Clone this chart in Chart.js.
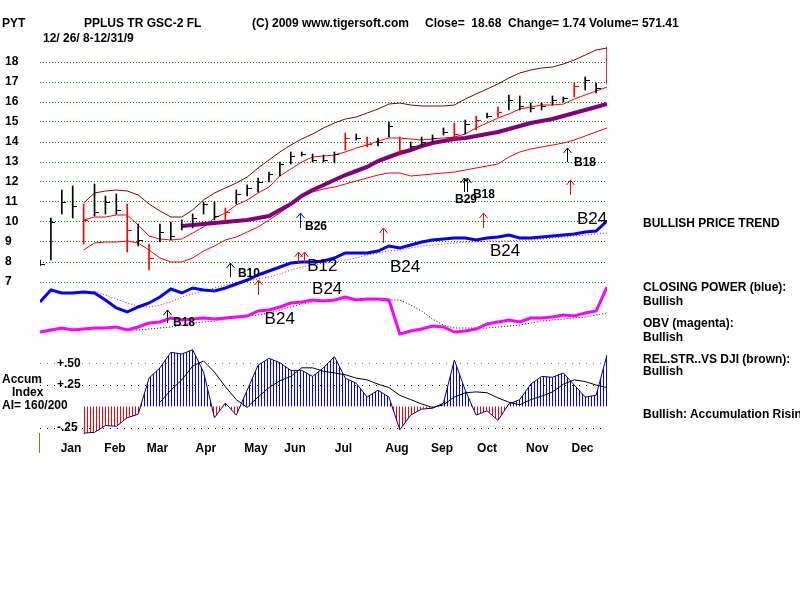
<!DOCTYPE html>
<html><head><meta charset="utf-8">
<script src="https://cdn.jsdelivr.net/npm/chart.js@4.4.1/dist/chart.umd.min.js"></script>
<style>
html,body{margin:0;padding:0;background:#fff;}
#wrap{position:relative;width:800px;height:600px;overflow:hidden;}
canvas{position:absolute;left:0;top:0;}
.t{position:absolute;font:bold 12px "Liberation Sans",Arial,sans-serif;line-height:14px;white-space:pre;color:#000;}
</style></head><body>
<div id="wrap">
<canvas id="c" width="800" height="600"></canvas>
<div class="t" style="left:2px;top:16px">PYT</div>
<div class="t" style="left:84px;top:16px">PPLUS TR GSC-2 FL</div>
<div class="t" style="left:252px;top:16px">(C) 2009 www.tigersoft.com</div>
<div class="t" style="left:425px;top:16px">Close=  18.68  Change= 1.74 Volume= 571.41</div>
<div class="t" style="left:43px;top:31px">12/ 26/ 8-12/31/9</div>
<div class="t" style="left:643px;top:216px">BULLISH PRICE TREND</div>
<div class="t" style="left:643px;top:280px">CLOSING POWER (blue):</div>
<div class="t" style="left:643px;top:294px">Bullish</div>
<div class="t" style="left:643px;top:316px">OBV (magenta):</div>
<div class="t" style="left:643px;top:330px">Bullish</div>
<div class="t" style="left:643px;top:352px">REL.STR..VS DJI (brown):</div>
<div class="t" style="left:643px;top:364px">Bullish</div>
<div class="t" style="left:643px;top:407px">Bullish: Accumulation Rising</div>
<div class="t" style="left:2px;top:372px">Accum</div>
<div class="t" style="left:12px;top:385px">Index</div>
<div class="t" style="left:2px;top:398px">AI= 160/200</div>
</div>
<script>
// ---- data (weekly, 12/26/08 .. 12/31/09) ----
const monthNames = ['Jan','Feb','Mar','Apr','May','Jun','Jul','Aug','Sep','Oct','Nov','Dec'];
const monthPos   = [2.84, 6.88, 10.77, 15.22, 19.81, 23.39, 27.83, 32.74, 36.87, 41.0, 45.62, 49.75];
const priceTicks = [7,8,9,10,11,12,13,14,15,16,17,18];
const accTicks   = [0.5, 0.25, -0.25];
const accTickLabels = ['+.50', '+.25', '-.25'];

const high  = [8.1,10.2,11.6,11.8,10.9,11.9,11.3,11.4,10.9,9.9,8.9,9.9,10.0,10.1,10.4,11.0,11.0,10.7,11.6,11.85,12.2,12.5,13.0,13.5,13.5,13.4,13.35,13.5,14.45,14.4,14.25,14.2,15.0,14.25,14.0,14.25,14.35,14.7,14.95,15.1,15.3,15.45,15.75,16.35,16.3,15.95,15.95,16.3,16.25,16.95,17.25,16.95,18.75];
const low   = [7.8,8.1,10.4,10.2,8.9,10.3,10.4,10.4,8.5,8.8,7.6,9.0,9.1,9.6,9.7,10.4,10.1,10.1,10.9,11.3,11.5,12.0,12.3,12.9,13.3,13.0,13.0,12.95,13.6,14.1,13.75,13.8,14.25,13.35,13.6,13.75,14.0,14.35,14.1,14.4,14.6,15.2,15.25,15.6,15.6,15.5,15.6,15.85,16.0,16.25,16.6,16.45,16.9];
const close = [7.9,10.0,11.0,10.8,10.1,10.5,11.0,10.6,9.6,9.1,8.2,9.5,9.3,9.8,10.2,10.9,10.3,10.5,11.4,11.7,12.0,12.4,12.9,13.3,13.4,13.1,13.1,13.4,14.2,14.2,13.9,14.0,14.8,13.6,13.8,14.0,14.2,14.5,14.4,14.9,15.1,15.3,15.5,16.1,15.8,15.7,15.8,16.1,16.2,16.8,17.1,16.7,18.68];
const flaggedWeeks = [4,8,10,17,28,30,33,38,40,42,49,52];

const upperBand = [null,null,null,null,10.95,11.45,11.55,11.6,11.55,11.35,10.9,10.55,10.25,10.25,10.6,11.1,11.45,11.7,11.95,12.25,12.7,13.1,13.5,13.85,14.15,14.4,14.7,14.95,15.15,15.25,15.45,15.65,15.9,15.95,15.85,15.8,15.8,15.8,15.85,16.15,16.4,16.65,16.9,17.2,17.45,17.6,17.7,17.75,17.9,18.1,18.35,18.6,18.7];
const midLine   = [null,null,null,null,10.1,10.25,10.25,10.35,10.35,9.85,9.3,9.15,9.1,9.15,9.45,9.75,10.2,10.45,10.85,11.1,11.45,11.75,12.3,12.65,13.0,13.25,13.3,13.35,13.5,13.7,13.85,14.05,14.2,14.2,14.15,14.1,14.15,14.2,14.25,14.4,14.7,14.95,15.2,15.4,15.65,15.75,15.85,15.85,15.9,16.15,16.35,16.55,16.75];
const lowerBand = [null,null,null,null,8.6,8.95,9.0,9.0,9.05,8.95,8.6,8.2,8.0,8.0,8.2,8.55,8.8,9.1,9.25,9.5,9.75,10.1,10.45,10.85,11.25,11.5,11.65,11.75,11.9,12.05,12.2,12.35,12.45,12.45,12.3,12.35,12.4,12.45,12.5,12.6,12.7,12.8,12.9,13.25,13.5,13.65,13.75,13.85,13.95,14.1,14.3,14.5,14.7];
const slowMA    = [null,null,null,null,null,null,null,null,null,null,null,null,null,9.8,9.85,9.9,9.95,10.0,10.05,10.1,10.2,10.3,10.6,10.9,11.3,11.6,11.85,12.1,12.35,12.55,12.75,13.05,13.25,13.45,13.6,13.8,13.95,14.05,14.15,14.2,14.3,14.4,14.5,14.65,14.8,14.95,15.05,15.15,15.3,15.45,15.6,15.75,15.9];

const closingPower   = [18,30,27,27,28,27,20,12,8,13,17,23,31,27,32,30,29,32,36,40,45,49,53,57,58,58,59,62,67,67,67,69,74,72,75,78,80,81,82,82,80,82,83,85,82,82,83,84,85,86,88,89,99];
const closingPowerMA = [null,null,null,null,null,29,25,21,17,14,13,15,18,23,26,29,32,35,37,39,41,43,46,50,53,55,57,58,60,62,65,67,69,70,72,74,75,76,77,78,78,79,79,79,80,80,81,82,83,84,85,86,87];
const obv            = [8,10,12,10,11,12,12,13,10,13,17,18,22,20,21,22,21,22,23,24,29,30,33,37,38,40,39,40,43,40,41,41,40,6,9,11,14,13,8,9,11,16,18,20,18,22,22,23,25,24,27,29,53];
const obvMA          = [null,null,null,null,null,null,null,null,10,10,11,12,13,15,17,18,19,21,22,24,25,27,30,33,36,38,40,40,40,40,40,40,40,40,35,29,21,15,12,12,12,12,13,14,15,17,19,20,21,22,23,25,27];
const relStrength    = [9,19,23,23,30,28,32,43,31,30,28,30,28,26,28,32,32,29,32,35,37,38,39,42,45,46,46,50,49,47,44,42,41,38,40,42,41,40,40,43,43,43,44,48,50,44,43,43,46,49,50,48,58];
const relStrengthMA  = [null,null,null,null,23,25,27,28,29,30,30,30,30,30,30,30,31,32,33,34,35,36,37,38,40,41,43,44,45,46,47,46,45,43,42,42,42,42,42,42,42,43,43,43,44,44,45,45,46,46,47,47,48];
const accumIndex     = [null,null,null,null,-0.31,-0.30,-0.22,-0.23,-0.13,-0.09,0.33,0.45,0.63,0.61,0.66,0.40,-0.13,0.04,-0.10,0.19,0.48,0.56,0.51,0.42,0.42,0.35,0.45,0.58,0.33,0.27,0.11,0.19,0.11,-0.27,-0.10,-0.03,-0.02,0.04,0.54,0.19,-0.10,-0.05,-0.16,0.03,0.08,0.26,0.35,0.34,0.39,0.25,0.11,0.13,0.60];
const accumMA        = [null,null,null,null,null,null,null,null,null,null,null,0.05,0.19,0.31,0.47,0.53,0.40,0.23,0.08,-0.01,0.11,0.22,0.30,0.35,0.45,0.45,0.41,0.39,0.37,0.33,0.31,0.26,0.22,0.13,0.08,0.03,-0.01,0.02,0.11,0.16,0.17,0.16,0.10,0.05,0.02,0.08,0.12,0.17,0.26,0.31,0.29,0.25,0.22];

// signal annotations: [week, top price, bottom price, kind] and [week, price, label, big]
const arrows = [
  [23.85,10.45,9.7,'blue'],[17.4,7.95,7.25,'black'],[20.0,7.1,6.35,'red'],
  [23.66,8.5,7.95,'red'],[24.2,8.5,7.95,'red'],[31.45,9.7,8.95,'red'],
  [11.65,5.6,4.95,'black'],[40.6,10.45,9.7,'red'],[38.9,12.2,11.5,'black'],
  [39.2,12.2,11.5,'black'],[48.6,12.1,11.35,'red'],[48.33,13.7,13.0,'black']
];
const signals = [
  [24.3,9.75,'B26',0],[18.15,7.4,'B10',0],[24.5,7.8,'B12',1],[32.1,7.75,'B24',1],
  [24.95,6.65,'B24',1],[20.6,5.15,'B24',1],[12.2,4.95,'B18',0],[41.27,8.55,'B24',1],
  [38.06,11.1,'B29',0],[39.7,11.35,'B18',0],[48.97,12.95,'B18',0],[49.25,10.15,'B24',1]
];

// ---- drawing ----
const FONT = '"Liberation Sans", Arial, sans-serif';
const xy = arr => arr.map((v,i)=>({x:i, y:v}));
const barColours = close.map((_,i)=> flaggedWeeks.includes(i) ? '#ff0000' : '#000000');
const kindColour = {blue:'#0000ff', black:'#000000', red:'#ff0000'};
const cvs = document.getElementById('c');
function stripes(color){
  const c = document.createElement('canvas'); c.width = 3; c.height = 1;
  const g = c.getContext('2d'); g.fillStyle = color; g.fillRect(0,0,1,1);
  return cvs.getContext('2d').createPattern(c,'repeat');
}
function closeTick(color){ // small tick to the right of the bar
  const c = document.createElement('canvas'); c.width = 9; c.height = 1;
  const g = c.getContext('2d'); g.fillStyle = color; g.fillRect(5,0,4,1);
  return c;
}
const tickStyles = {'#ff0000': closeTick('#ff0000'), '#000000': closeTick('#000000')};
const line = (data, color, width, axis, extra) => Object.assign({
  type:'line', data: xy(data), borderColor: color, borderWidth: width, pointRadius: 0,
  tension: 0, fill: false, yAxisID: axis, xAxisID: 'x', spanGaps: false
}, extra || {});

const marks = {
  id: 'marks',
  afterDatasetsDraw(chart){
    const {ctx, chartArea} = chart, x = chart.scales.x, y = chart.scales.y;
    ctx.save();
    ctx.lineWidth = 1;
    for (const [w, top, bot, kind] of arrows){
      const px = Math.round(x.getPixelForValue(w)) + 0.5;
      const pt = Math.round(y.getPixelForValue(top)), pb = Math.round(y.getPixelForValue(bot));
      ctx.strokeStyle = kindColour[kind];
      ctx.beginPath();
      ctx.moveTo(px, pb); ctx.lineTo(px, pt);
      ctx.moveTo(px-4, pt+5); ctx.lineTo(px, pt); ctx.lineTo(px+4, pt+5);
      ctx.stroke();
    }
    ctx.textBaseline = 'middle'; ctx.textAlign = 'left'; ctx.fillStyle = '#000';
    for (const [w, p, txt, big] of signals){
      ctx.font = big ? '17px ' + FONT : 'bold 12px ' + FONT;
      ctx.fillText(txt, x.getPixelForValue(w), y.getPixelForValue(p));
    }
    ctx.strokeStyle = '#808000';
    ctx.beginPath();
    ctx.moveTo(chartArea.left - 0.5, chartArea.bottom - 5);
    ctx.lineTo(chartArea.left - 0.5, chartArea.bottom + 15);
    ctx.stroke();
    ctx.restore();
  }
};

new Chart(cvs, {
  type: 'line',
  data: {
    datasets: [
      {type:'bar', data: high.map((h,i)=>({x:i, y:[low[i], h]})), backgroundColor: barColours,
       borderWidth: 0, barThickness: 1, yAxisID:'y', xAxisID:'x'},
      {type:'line', data: xy(close), showLine:false, pointStyle: barColours.map(c=>tickStyles[c]),
       pointRadius:4, yAxisID:'y', xAxisID:'x'},
      line(slowMA, '#800080', 4, 'y'),
      line(upperBand, '#800000', 1, 'y'),
      line(midLine, '#ff0000', 1, 'y'),
      line(lowerBand, '#ff0000', 1, 'y'),
      line(closingPower, '#0000ff', 3, 'cp'),
      line(closingPowerMA, '#ff0000', 1, 'cp', {borderDash:[1,2]}),
      line(obv, '#ff00ff', 3, 'obv'),
      line(obvMA, '#000000', 1, 'obv', {borderDash:[1,2]}),
      line(relStrength, '#000000', 3, 'rs'),
      line(relStrengthMA, '#ff0000', 1, 'rs', {borderDash:[1,2]}),
      line(accumMA, '#000000', 1, 'acc'),
      line(accumIndex, '#000080', 1, 'acc', {fill:{target:{value:0}, above: stripes('#0000ff'), below: stripes('#ff0000')}})
    ]
  },
  options: {
    responsive: false, animation: false, devicePixelRatio: 1,
    layout: {padding: {left: 5, right: 193, top: 42, bottom: 142}},
    plugins: {legend: {display:false}, tooltip: {enabled:false}},
    scales: {
      x: {
        type:'linear', min:0, max:52, offset:false,
        grid:{display:false, drawTicks:false}, border:{display:false},
        afterBuildTicks: s => { s.ticks = monthPos.map(v=>({value:v})); },
        afterFit: s => { s.height = 20; },
        ticks:{autoSkip:false, maxRotation:0, padding:3, color:'#000',
               font:{family:FONT, weight:'bold', size:12},
               callback:(v,i)=> monthNames[i]}
      },
      y: {
        type:'linear', position:'left', weight:10, min:-0.8, max:19,
        afterBuildTicks: s => { s.ticks = priceTicks.map(v=>({value:v})); },
        afterFit: s => { s.width = 35; },
        grid:{color:'#008000', lineWidth:1, drawTicks:false},
        border:{display:false, dash:[1,2]},
        ticks:{crossAlign:'far', padding:0, color:'#000', font:{family:FONT, weight:'bold', size:12}}
      },
      acc: {
        type:'linear', position:'left', weight:0, min:-0.366, max:4.238,
        afterBuildTicks: s => { s.ticks = accTicks.map(v=>({value:v})); },
        afterFit: s => { s.width = 0; },
        grid:{color: c => (c.tick && c.tick.value === 0.5) ? '#a07070' : '#000000', lineWidth:1, drawTicks:false},
        border:{display:false, dash:[1,6]},
        ticks:{mirror:true, padding:17, color:'#000', font:{family:FONT, weight:'bold', size:12},
               callback:(v,i)=> accTickLabels[i]}
      },
      cp:  {type:'linear', display:false, min:-118, max:278},
      obv: {type:'linear', display:false, min:-98, max:298},
      rs:  {type:'linear', display:false, min:-48, max:348}
    }
  },
  plugins: [marks]
});
</script>
</body></html>
